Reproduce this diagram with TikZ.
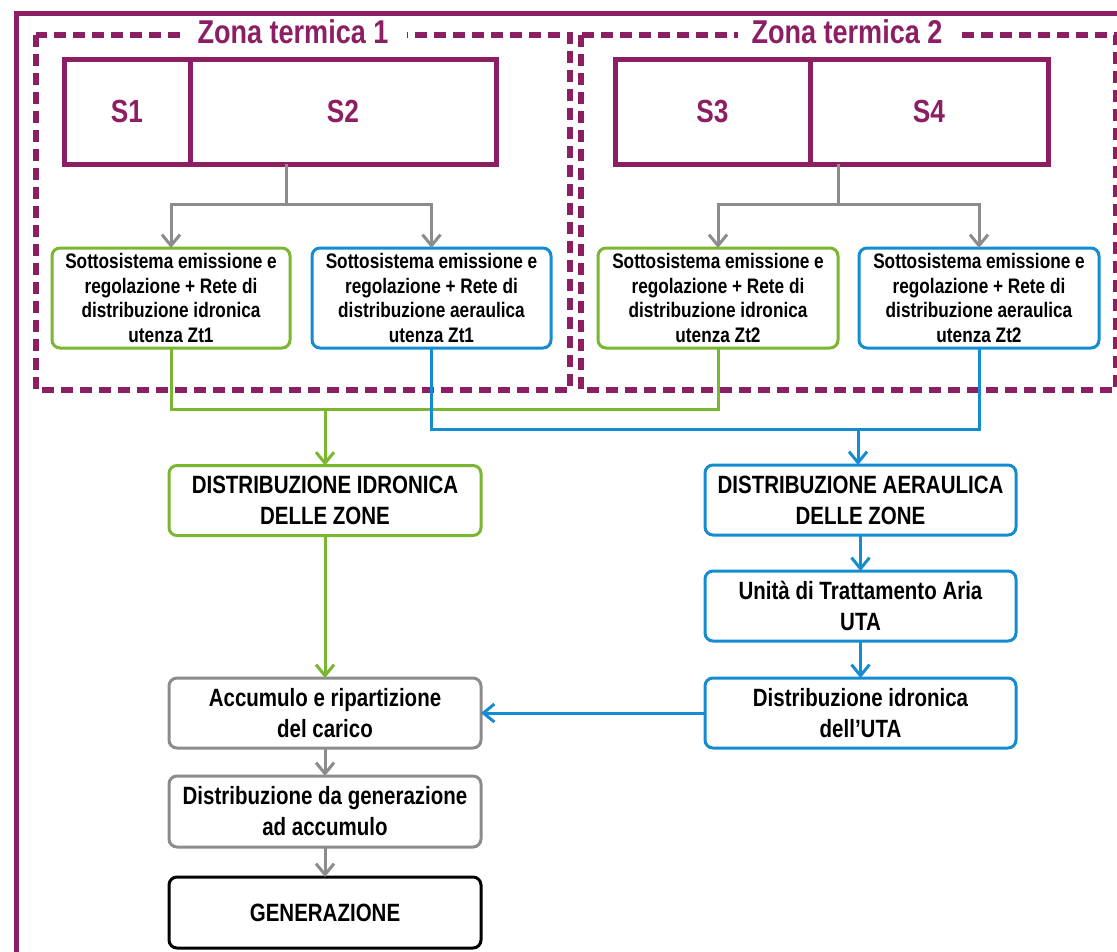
\documentclass[tikz,border=0pt]{standalone}
\usepackage{fontspec}
\setmainfont{Liberation Sans}[FakeStretch=0.82]
\usetikzlibrary{arrows.meta}
\definecolor{zpurple}{RGB}{140,30,100}
\definecolor{zgreen}{RGB}{122,182,48}
\definecolor{zblue}{RGB}{20,140,210}
\definecolor{zgray}{RGB}{140,140,140}
\tikzset{
  frameline/.style={draw=zpurple, line width=5pt},
  zonedash/.style={draw=zpurple, line width=6pt, dash pattern=on 12pt off 7pt},
  zonetitle/.style={fill=white, text=zpurple, font=\fontsize{33}{36}\selectfont\bfseries, inner xsep=18pt, inner ysep=2pt},
  sbox/.style={draw=zpurple, line width=5pt, text=zpurple, font=\fontsize{32}{34}\selectfont\bfseries, minimum height=105pt, inner sep=0pt, outer sep=0pt},
  basebox/.style={rounded corners=8pt, line width=3pt, fill=white, text=black, align=center, inner sep=0pt, outer sep=0pt},
  smallbox/.style={basebox, minimum height=100pt, font=\fontsize{21}{24.7}\selectfont\bfseries},
  bigbox/.style={basebox, minimum width=312pt, minimum height=70pt, font=\fontsize{25}{31}\selectfont\bfseries},
  tip/.style={-{Straight Barb[length=11pt, width=18pt]}},
  conn/.style={line width=3pt},
}
\begin{document}
\begin{tikzpicture}[x=1pt,y=-1pt]
\path[use as bounding box] (0,0) rectangle (1117,951);
\clip (0,0) rectangle (1117,951);
% outer frame
\draw[frameline] (16,1000) -- (16,13) -- (1200,13);
% zones
\draw[zonedash] (36,35) rectangle (570,390);
\draw[zonedash] (581,35) rectangle (1116,390);
\node[zonetitle] (zt1) at (293,32) {Zona termica 1};
\node[zonetitle, inner xsep=14pt] (zt2) at (847,32) {Zona termica 2};
% spaces
\node[sbox, minimum width=126pt] (s1) at (127,111.5) {S1};
\node[sbox, minimum width=306pt] (s2) at (343,111.5) {S2};
\node[sbox, minimum width=195pt] (s3) at (712.5,111.5) {S3};
\node[sbox, minimum width=238pt] (s4) at (929,111.5) {S4};
% emission subsystems
\node[smallbox, draw=zgreen, minimum width=238pt] (g1) at (171,298) {Sottosistema emissione e\\regolazione + Rete di\\distribuzione idronica\\utenza Zt1};
\node[smallbox, draw=zblue, minimum width=239pt] (b1) at (431.5,298) {Sottosistema emissione e\\regolazione + Rete di\\distribuzione aeraulica\\utenza Zt1};
\node[smallbox, draw=zgreen, minimum width=240pt] (g2) at (718,298) {Sottosistema emissione e\\regolazione + Rete di\\distribuzione idronica\\utenza Zt2};
\node[smallbox, draw=zblue, minimum width=240pt] (b2) at (979,298) {Sottosistema emissione e\\regolazione + Rete di\\distribuzione aeraulica\\utenza Zt2};
% lower chain
\node[bigbox, draw=zgreen] (di) at (325,500.5) {DISTRIBUZIONE IDRONICA\\DELLE ZONE};
\node[bigbox, draw=zblue, minimum width=311pt] (da) at (860.5,500) {DISTRIBUZIONE AERAULICA\\DELLE ZONE};
\node[bigbox, draw=zblue, minimum width=311pt] (uta) at (860.5,606) {Unità di Trattamento Aria\\UTA};
\node[bigbox, draw=zblue, minimum width=311pt] (du) at (860.5,713) {Distribuzione idronica\\dell’UTA};
\node[bigbox, draw=zgray] (acc) at (325,713) {Accumulo e ripartizione\\del carico};
\node[bigbox, draw=zgray, minimum height=71pt] (dg) at (325,811.5) {Distribuzione da generazione\\ad accumulo};
\node[bigbox, draw=black, minimum height=71pt] (gen) at (325,912.5) {GENERAZIONE};
% gray splits
\coordinate (j1) at (286,204);
\coordinate (j2) at (838,204);
\draw[conn, zgray] (j1 |- s2.south) -- (j1);
\draw[conn, zgray, tip] (j1) -| (g1);
\draw[conn, zgray, tip] (j1) -| (b1);
\draw[conn, zgray] (j2 |- s4.south) -- (j2);
\draw[conn, zgray, tip] (j2) -| (g2);
\draw[conn, zgray, tip] (j2) -| (b2);
% green collector
\coordinate (jg) at (325,409);
\draw[conn, zgreen] (g1) |- (jg) -| (g2);
\draw[conn, zgreen, tip] (jg) -- (di);
% blue collector
\coordinate (jb) at (858,429);
\draw[conn, zblue] (b1) |- (jb) -| (b2);
\draw[conn, zblue, tip] (jb) -- (jb |- da.north);
% chain arrows
\draw[conn, zblue, tip] (da) -- (uta);
\draw[conn, zblue, tip] (uta) -- (du);
\draw[conn, zblue, tip] (du.west) -- (acc.east);
\draw[conn, zgreen, tip] (di) -- (acc);
\draw[conn, zgray, tip] (acc) -- (dg);
\draw[conn, zgray, tip] (dg) -- (gen);
\end{tikzpicture}
\end{document}
